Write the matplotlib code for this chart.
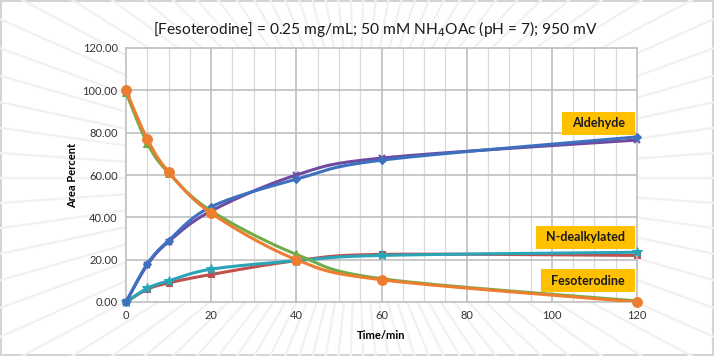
import numpy as np
import matplotlib
matplotlib.use("Agg")
import matplotlib.pyplot as plt
from matplotlib.patches import Rectangle

# ---- data ----
time_min = [0, 5, 10, 20, 40, 60, 120]
fesoterodine_a = [100.0, 77.0, 61.5, 42.0, 20.0, 10.5, 0.0]
fesoterodine_b = [99.0, 75.0, 61.0, 43.0, 22.5, 11.0, 0.5]
aldehyde_a = [0.0, 18.0, 29.0, 45.0, 58.0, 67.0, 78.0]
aldehyde_b = [0.0, 17.5, 28.5, 43.0, 60.0, 68.0, 76.5]
ndealk_a = [0.0, 6.0, 9.0, 13.0, 19.5, 22.5, 22.0]
ndealk_b = [0.0, 6.5, 10.0, 15.5, 19.5, 22.0, 23.5]
y_ticks = [0, 20, 40, 60, 80, 100, 120]
x_ticks = [0, 20, 40, 60, 80, 100, 120]
labels = ["Aldehyde", "N-dealkylated", "Fesoterodine"]
label_y = [84.5, 30.5, 10.0]

FONT = ["Lato", "DejaVu Sans"]
plt.rcParams['font.family'] = FONT


def smooth(x, y, n=30):
    x = np.asarray(x, float); y = np.asarray(y, float)
    P = np.column_stack([x, y])
    out = []
    for i in range(len(P) - 1):
        p0 = P[i - 1] if i > 0 else P[i]
        p1 = P[i]; p2 = P[i + 1]
        p3 = P[i + 2] if i + 2 < len(P) else P[i + 1]
        c1 = p1 + (p2 - p0) / 6.0
        c2 = p2 - (p3 - p1) / 6.0
        t = np.linspace(0, 1, n)[:, None]
        seg = ((1 - t) ** 3) * p1 + 3 * ((1 - t) ** 2) * t * c1 + 3 * (1 - t) * t ** 2 * c2 + t ** 3 * p2
        out.append(seg if i == 0 else seg[1:])
    s = np.vstack(out)
    return s[:, 0], s[:, 1]


fig = plt.figure(figsize=(7.14, 3.56), dpi=100)
fig.patch.set_facecolor("white")

# background rays
bg = fig.add_axes([0, 0, 1, 1], zorder=0)
bg.set_xlim(0, 714); bg.set_ylim(356, 0); bg.axis("off")
cx, cy = 357, 178
for ang in np.arange(0, 360, 4.0):
    a = np.deg2rad(ang)
    bg.plot([cx, cx + 900 * np.cos(a)], [cy, cy + 900 * np.sin(a)], color="#f1f1f1", lw=1.6, solid_capstyle="butt")
bg.add_patch(Rectangle((1, 1), 712, 354, fill=False, edgecolor="#d4d4d4", lw=1.5))

ax = fig.add_axes([126 / 714, 1 - 302 / 356, (637 - 126) / 714, (302 - 48) / 356], zorder=1)
ax.set_facecolor("white")
ax.set_xlim(0, 120); ax.set_ylim(0, 120)

for xv in range(5, 120, 5):
    major = xv % 20 == 0
    ax.axvline(xv, color="#bfbfbf" if major else "#d9d9d9", lw=1.2 if major else 0.9, zorder=0)
for yv in y_ticks[1:-1]:
    ax.axhline(yv, color="#bfbfbf", lw=1.2, zorder=0)
for sp in ax.spines.values():
    sp.set_color("#bfbfbf"); sp.set_linewidth(1.2)

series = [
    (ndealk_a, "#C0504D", "s", 5),
    (ndealk_b, "#2AA5B8", "*", 7),
    (aldehyde_b, "#6F4BA0", "x", 5),
    (aldehyde_a, "#3E70C0", "D", 4.5),
    (fesoterodine_b, "#70AD47", "^", 5.5),
    (fesoterodine_a, "#ED7D31", "o", 7),
]
for i, (vals, col, mk, ms) in enumerate(series):
    sx, sy = smooth(time_min, vals)
    ax.plot(sx, sy, color=col, lw=2.2, zorder=2 + i, solid_capstyle="round")
    ax.plot(time_min, vals, linestyle="none", marker=mk, color=col, markersize=ms,
            markeredgewidth=1.5 if mk == "x" else 0.8, zorder=2 + i, clip_on=False)

ax.set_xticks(x_ticks)
ax.set_yticks(y_ticks)
ax.set_yticklabels([f"{v:.2f}" for v in y_ticks])
ax.tick_params(length=0, labelsize=8, colors="#333333", pad=6)
ax.set_xlabel("Time/min", fontsize=8, fontweight="bold", labelpad=6)
ax.set_ylabel("Area Percent", fontsize=8, fontweight="bold", labelpad=3)

fig.text(375 / 714, 1 - 29 / 356,
         "[Fesoterodine] = 0.25 mg/mL; 50 mM NH$_4$OAc (pH = 7); 950 mV",
         ha="center", va="center", fontsize=11.2, color="#1a1a1a")

# label boxes: text positioned, then box sized from its measured extent
texts = []
for lab, yv in zip(labels, label_y):
    t = ax.text(0, 0, lab, ha="center", va="center", fontsize=9, fontweight="bold", color="#1a1a1a", zorder=21)
    texts.append((t, yv))
fig.canvas.draw()
renderer = fig.canvas.get_renderer()
padx = 10
for t, yv in texts:
    ext = t.get_window_extent(renderer)
    w = ext.width + 2 * padx
    h = 23
    xr, yc = ax.transData.transform((119.5, yv))
    xc = xr - w / 2
    cxd, cyd = ax.transData.inverted().transform((xc, yc))
    t.set_position((cxd, cyd))
    x0d, y0d = ax.transData.inverted().transform((xr - w, yc - h / 2))
    x1d, y1d = ax.transData.inverted().transform((xr, yc + h / 2))
    ax.add_patch(Rectangle((x0d, y0d), x1d - x0d, y1d - y0d, facecolor="#FFC000", edgecolor="none",
                           zorder=20, clip_on=False))

fig.savefig("out.png", dpi=100)
